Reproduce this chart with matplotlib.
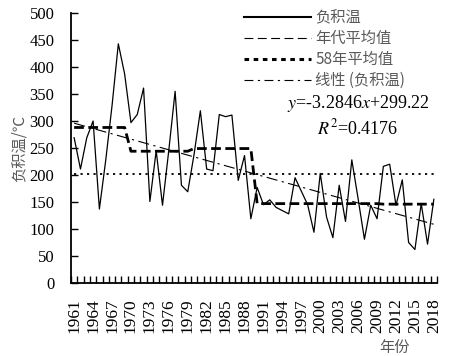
import numpy as np
import matplotlib
matplotlib.use("Agg")
import matplotlib.pyplot as plt
from matplotlib.lines import Line2D

plt.rcParams['font.family'] = ['Liberation Serif', 'DejaVu Serif']
plt.rcParams['mathtext.fontset'] = 'stix'

years = list(range(1961, 2019))
neg_temp = [269, 211, 269, 300, 137, 227, 328, 443, 387, 297,
            312, 361, 151, 245, 144, 246, 355, 181, 169, 238,
            319, 211, 208, 312, 308, 311, 190, 236, 119, 177,
            145, 154, 140, 134, 128, 195, 170, 145, 94, 203,
            122, 84, 181, 114, 228, 156, 81, 144, 119, 216,
            220, 144, 191, 75, 62, 147, 72, 155]
decade_means = [288, 244, 249, 147, 147, 146]
decade_lengths = [9, 10, 10, 10, 10, 9]
mean_58 = 201
slope, intercept = -3.2846, 299.22
r2 = 0.4176
tick_years = list(range(1961, 2019, 3))

cjk = ['Noto Sans CJK SC', 'DejaVu Sans']
gray = '#595959'

fig = plt.figure(figsize=(4.49, 3.56), dpi=100)
ax = fig.add_axes([71/449, 1-283/356, 366/449, 270/356])

idx = np.arange(len(years))
decade_series = np.repeat(decade_means, decade_lengths)
trend = slope * (idx + 1) + intercept

ax.plot(idx, neg_temp, color='black', lw=0.9, zorder=5)
ax.plot(idx, decade_series, color='black', lw=2.0, dashes=(3.5, 1.6), zorder=4)
ax.plot(idx, [mean_58]*len(idx), color='black', lw=1.3, dashes=(1.2, 2.4), zorder=3)
ax.plot(idx, trend, color='black', lw=0.8, dashes=(10, 4, 2, 4), zorder=3)

ax.set_xlim(-0.5, len(years) - 0.5)
ax.set_ylim(0, 500)
ax.set_yticks(range(0, 501, 50))
ax.set_xticks([years.index(y) for y in tick_years])
ax.set_xticklabels([str(y) for y in tick_years], rotation=90, fontsize=12.5)
ax.set_xticks(np.arange(-0.5, len(years), 1), minor=True)
ax.tick_params(axis='x', which='major', length=0, pad=11)
ax.tick_params(axis='x', which='minor', direction='in', length=5, width=1)
ax.tick_params(axis='y', direction='in', length=5, width=1, pad=12, labelsize=12)

for s in ['top', 'right']:
    ax.spines[s].set_visible(False)
for s in ['left', 'bottom']:
    ax.spines[s].set_linewidth(1.3)

ax.set_ylabel('负积温/℃', family=cjk, fontsize=11, color=gray, labelpad=1)
fig.text(395/449, 1-347/356, '年份', family=cjk, fontsize=11, color=gray,
         ha='center', va='center')

handles = [
    Line2D([], [], color='black', lw=1.5),
    Line2D([], [], color='black', lw=0.8, dashes=(8, 4)),
    Line2D([], [], color='black', lw=2.2, dashes=(1.5, 1.5)),
    Line2D([], [], color='black', lw=0.8, dashes=(8, 4, 2, 4)),
]
labels = ['负积温', '年代平均值', '58年平均值', '线性 (负积温)']
leg = ax.legend(handles, labels, loc='upper left', bbox_to_anchor=(236/449, 1 - 2/356),
                bbox_transform=fig.transFigure, frameon=False,
                prop={'family': cjk, 'size': 11}, handlelength=4.4,
                handletextpad=0.3, labelspacing=0.25, borderpad=0)
for t in leg.get_texts():
    t.set_color(gray)

fig.text(358/449, 1-103/356, r'$y$=-3.2846$x$+299.22', fontsize=13,
         ha='center', va='center')
fig.text(358/449, 1-128/356, r'$R^2$=0.4176', fontsize=13,
         ha='center', va='center')

fig.savefig('out.png', dpi=100)
